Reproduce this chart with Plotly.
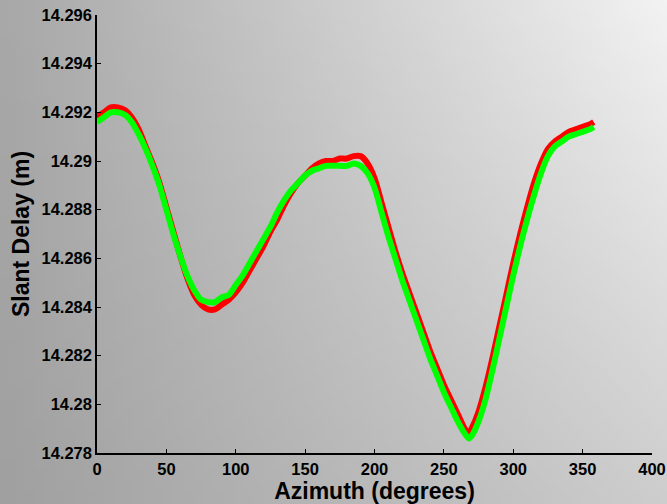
import base64, struct, zlib
import plotly.graph_objects as go

azimuth = [0, 5, 10, 15, 20, 25, 30, 35, 40, 45, 50, 55, 60, 65, 70, 75, 80, 85, 90, 95,
           100, 105, 110, 115, 120, 125, 130, 135, 140, 145, 150, 155, 160, 165, 170, 175,
           180, 185, 190, 195, 200, 205, 210, 215, 220, 225, 230, 235, 240, 245, 250, 255,
           260, 265, 268, 270, 275, 280, 285, 290, 295, 300, 305, 310, 315, 320, 325, 330,
           335, 340, 345, 350, 355, 358]

delay_red = [14.2918, 14.2920, 14.2922, 14.2922, 14.2921, 14.2918, 14.2913, 14.2906, 14.2899, 14.2891,
             14.2881, 14.2871, 14.2861, 14.2852, 14.2845, 14.2841, 14.2839, 14.2839, 14.2841, 14.2843,
             14.2846, 14.2850, 14.2855, 14.2860, 14.2865, 14.2871, 14.2876, 14.2882, 14.2887, 14.2891,
             14.2894, 14.2897, 14.2899, 14.2900, 14.2900, 14.2901, 14.2901, 14.2902, 14.2902, 14.2899,
             14.2893, 14.2883, 14.2873, 14.2863, 14.2854, 14.2846, 14.2838, 14.2830, 14.2822, 14.2815,
             14.2808, 14.2802, 14.2796, 14.2790, 14.2788, 14.2790, 14.2797, 14.2807, 14.2819, 14.2832,
             14.2845, 14.2858, 14.2870, 14.2881, 14.2891, 14.2899, 14.2905, 14.2908, 14.2910, 14.2912,
             14.2913, 14.2914, 14.2915, 14.2916]

delay_green = [14.2916, 14.2918, 14.2920, 14.2920, 14.2919, 14.2916, 14.2911, 14.2905, 14.2898, 14.2890,
               14.2880, 14.2870, 14.2861, 14.2853, 14.2847, 14.2843, 14.2842, 14.2842, 14.2844, 14.2845,
               14.2849, 14.2853, 14.2858, 14.2863, 14.2868, 14.2873, 14.2879, 14.2884, 14.2888, 14.2891,
               14.2894, 14.2896, 14.2897, 14.2898, 14.2898, 14.2898, 14.2898, 14.2899, 14.2898, 14.2895,
               14.2889, 14.2879, 14.2869, 14.2860, 14.2851, 14.2843, 14.2835, 14.2827, 14.2819, 14.2812,
               14.2805, 14.2799, 14.2793, 14.2788, 14.2786, 14.2787, 14.2793, 14.2802, 14.2814, 14.2827,
               14.2840, 14.2853, 14.2865, 14.2876, 14.2886, 14.2895, 14.2902, 14.2906, 14.2908, 14.2910,
               14.2911, 14.2912, 14.2913, 14.2914]

x_ticks = [0, 50, 100, 150, 200, 250, 300, 350, 400]
y_ticks = [14.278, 14.28, 14.282, 14.284, 14.286, 14.288, 14.29, 14.292, 14.294, 14.296]
y_ticktext = ["14.278", "14.28", "14.282", "14.284", "14.286", "14.288", "14.29", "14.292", "14.294", "14.296"]


def gradient_png(w=67, h=50):
    rows = b""
    for j in range(h):
        fy = j / (h - 1)
        row = bytearray([0])
        for i in range(w):
            fx = i / (w - 1)
            top = 168 + (242 - 168) * fx
            bot = 160 + (205 - 160) * fx
            v = int(round(top + (bot - top) * fy))
            row.append(max(0, min(255, v)))
        rows += bytes(row)

    def chunk(tag, data):
        c = struct.pack(">I", len(data)) + tag + data
        return c + struct.pack(">I", zlib.crc32(tag + data) & 0xffffffff)

    png = b"\x89PNG\r\n\x1a\n"
    png += chunk(b"IHDR", struct.pack(">IIBBBBB", w, h, 8, 0, 0, 0, 0))
    png += chunk(b"IDAT", zlib.compress(rows, 9))
    png += chunk(b"IEND", b"")
    return "data:image/png;base64," + base64.b64encode(png).decode()


fig = go.Figure()
fig.add_trace(go.Scatter(x=azimuth, y=delay_red, mode="lines",
                         line=dict(color="#ff0000", width=6, shape="spline", smoothing=0.8),
                         showlegend=False))
fig.add_trace(go.Scatter(x=azimuth, y=delay_green, mode="lines",
                         line=dict(color="#00ff00", width=6, shape="spline", smoothing=0.8),
                         showlegend=False))

font_family = "Liberation Sans, Arial, sans-serif"
fig.update_layout(
    width=667, height=504,
    margin=dict(l=97, r=15, t=15, b=51),
    paper_bgcolor="#c8c8c8",
    plot_bgcolor="white",
    font=dict(family=font_family, color="black"),
    images=[dict(source=gradient_png(), xref="paper", yref="paper", x=-97/555, y=1 + 15/438,
                 sizex=667/555, sizey=504/438, xanchor="left", yanchor="top",
                 sizing="stretch", layer="below")],
    xaxis=dict(range=[0, 400], tickvals=x_ticks, ticks="inside", ticklen=4, tickwidth=1,
               tickcolor="black", showline=True, linecolor="black", linewidth=1.5,
               showgrid=False, zeroline=False, automargin=False,
               tickfont=dict(size=16.5, family=font_family, weight="bold"),
               title=dict(text="<b>Azimuth (degrees)</b>", font=dict(size=23), standoff=3)),
    yaxis=dict(range=[14.278, 14.296], tickvals=y_ticks, ticktext=y_ticktext, ticks="inside",
               ticklen=4, tickwidth=1, tickcolor="black", showline=True, linecolor="black",
               linewidth=1.5, showgrid=False, zeroline=False, automargin=False,
               tickfont=dict(size=16.5, family=font_family, weight="bold"),
               title=dict(text="<b>Slant Delay (m)</b>", font=dict(size=23), standoff=5)),
)

fig.write_html("out.html")
